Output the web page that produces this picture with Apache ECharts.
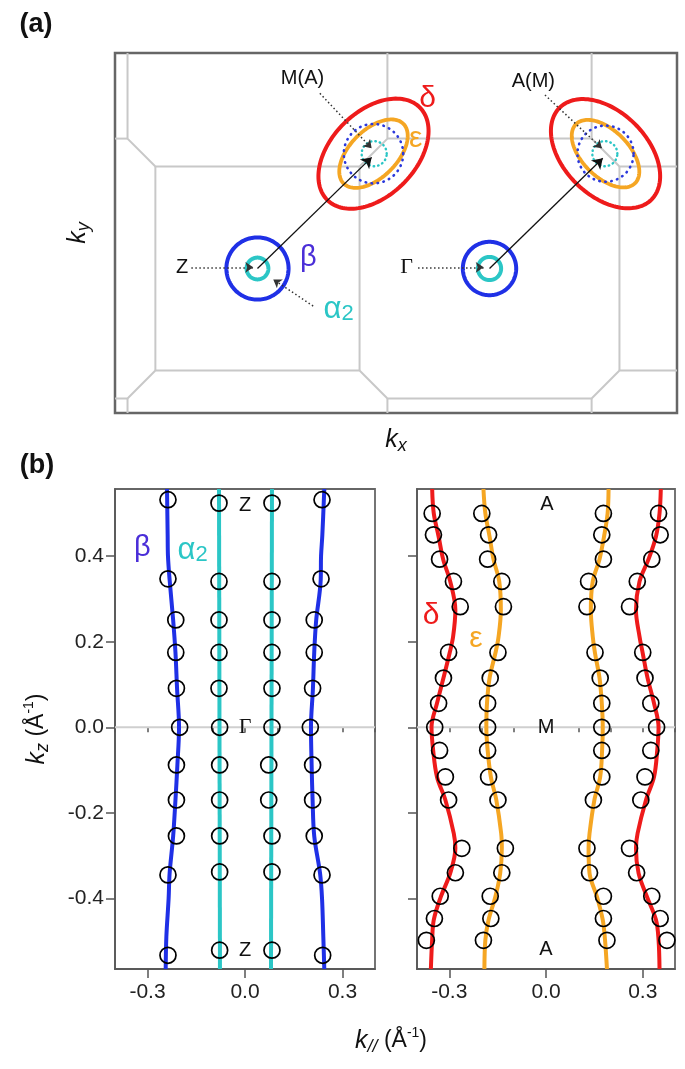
<!DOCTYPE html>
<html><head><meta charset="utf-8">
<script src="https://cdn.jsdelivr.net/npm/echarts@6/dist/echarts.min.js"></script>
<style>html,body{margin:0;padding:0;background:#fff}#c{width:685px;height:1069px}</style>
</head><body><div id="c"></div>
<script>
// ===== Panel (a): Brillouin zone sketch (units: Z–Γ distance = 1, Γ at origin) =====
const bzPolylines = [
  [[-1.56,0.929],[-1.56,0.56],[-1.44,0.44],[-0.56,0.44],[-0.44,0.56],[-0.44,0.929]],
  [[-1.614,0.56],[-1.56,0.56]],
  [[-0.44,0.56],[0.44,0.56],[0.56,0.44],[0.808,0.44]],
  [[0.44,0.56],[0.44,0.929]],
  [[-1.44,0.44],[-1.44,-0.44]],
  [[-0.56,0.44],[-0.56,-0.44]],
  [[0.56,0.44],[0.56,-0.44]],
  [[-1.614,-0.56],[-1.56,-0.56],[-1.44,-0.44],[-0.56,-0.44],[-0.44,-0.56],[0.44,-0.56],[0.56,-0.44],[0.808,-0.44]],
  [[-1.56,-0.56],[-1.56,-0.623]],
  [[-0.44,-0.56],[-0.44,-0.623]],
  [[0.44,-0.56],[0.44,-0.623]]
];
// pockets: [cx, cy, semi-axis a, semi-axis b, rotation deg]
const pocketBeta     = [[-1,0,0.134,0.134,0],[0,0,0.115,0.115,0]];
const pocketAlpha2   = [[-1,0,0.047,0.047,0],[0,0,0.050,0.050,0]];
const pocketDelta    = [[-0.5,0.495,0.282,0.182,45],[0.5,0.495,0.280,0.180,-45]];
const pocketEps      = [[-0.5,0.495,0.182,0.102,45],[0.5,0.495,0.180,0.100,-45]];
const pocketBetaFold = [[-0.5,0.495,0.128,0.128,0],[0.5,0.495,0.121,0.121,0]];
const pocketAlphaFold= [[-0.497,0.495,0.054,0.054,0],[0.497,0.495,0.054,0.054,0]];
const arrowsMain = [[[-1,0],[-0.508,0.479]],[[0,0],[0.488,0.475]]];
const arrowsPointer = [
  [[-1.285,0.005],[-1.018,0.005]],
  [[-0.308,0.005],[-0.025,0.005]],
  [[-0.760,-0.162],[-0.932,-0.047]],
  [[-0.731,0.755],[-0.508,0.518]],
  [[0.239,0.748],[0.484,0.518]]
];
const labelsA = [
  {x:-0.806, y:0.820, t:'M(A)', k:'plain'},
  {x:0.189, y:0.805, t:'A(M)', k:'plain'},
  {x:-1.325, y:0.004, t:'Z', k:'plain'},
  {x:-0.357, y:0.004, t:'Γ', k:'serif'},
  {x:-0.781, y:0.047, t:'β', k:'beta'},
  {x:-0.650, y:-0.175, t:'{a|α}{s|2}', k:'alpha'},
  {x:-0.267, y:0.731, t:'δ', k:'delta'},
  {x:-0.318, y:0.561, t:'ε', k:'eps'}
];

// ===== Panel (b) left: beta / alpha2 =====
const kzBetaRows  = [0.532, 0.347, 0.251, 0.175, 0.091, 0.0, -0.088, -0.170, -0.254, -0.345, -0.533];
const betaCircL   = [-0.237,-0.237,-0.213,-0.213,-0.211,-0.201,-0.211,-0.211,-0.211,-0.237,-0.237];
const betaCircR   = [0.237, 0.234, 0.213, 0.213, 0.208, 0.201, 0.208, 0.208, 0.213, 0.237, 0.239];
const kzAlphaRows = [0.524, 0.341, 0.251, 0.175, 0.091, 0.0, -0.088, -0.170, -0.254, -0.338, -0.521];
const alphaCircL  = [-0.080,-0.080,-0.080,-0.080,-0.080,-0.078,-0.078,-0.078,-0.078,-0.078,-0.078];
const alphaCircR  = [0.083, 0.083, 0.083, 0.083, 0.083, 0.083, 0.073, 0.073, 0.083, 0.083, 0.083];
const kzBetaLine  = [0.557, 0.45, 0.40, 0.345, 0.25, 0.175, 0.09, 0.0, -0.088, -0.17, -0.254, -0.342, -0.40, -0.49, -0.565];
const betaLineL   = [-0.240,-0.238,-0.237,-0.232,-0.221,-0.214,-0.209,-0.203,-0.208,-0.214,-0.221,-0.232,-0.235,-0.242,-0.244];
const betaLineR   = [0.244, 0.238, 0.234, 0.233, 0.219, 0.213, 0.209, 0.203, 0.205, 0.208, 0.213, 0.231, 0.237, 0.241, 0.244];
const kzAlphaLine = [0.557, -0.565];
const alphaLineL  = [-0.080, -0.077];
const alphaLineR  = [0.083, 0.080];

// ===== Panel (b) right: delta / epsilon =====
const kzDERows = [0.500,0.450,0.393,0.341,0.282,0.175,0.115,0.056,0.0,-0.054,-0.116,-0.170,-0.283,-0.340,-0.395,-0.447,-0.498];
const deltaCircL = [-0.353,-0.349,-0.330,-0.287,-0.266,-0.302,-0.318,-0.333,-0.345,-0.330,-0.312,-0.302,-0.261,-0.281,-0.328,-0.346,-0.371];
const epsCircL   = [-0.199,-0.178,-0.181,-0.137,-0.132,-0.149,-0.173,-0.181,-0.181,-0.181,-0.178,-0.149,-0.126,-0.137,-0.173,-0.171,-0.194];
const epsCircR   = [0.178, 0.173, 0.178, 0.132, 0.127, 0.152, 0.168, 0.173, 0.173, 0.173, 0.173, 0.147, 0.127, 0.135, 0.178, 0.178, 0.189];
const deltaCircR = [0.349, 0.354, 0.328, 0.283, 0.259, 0.300, 0.307, 0.325, 0.343, 0.325, 0.307, 0.294, 0.259, 0.281, 0.328, 0.354, 0.375];
const kzDELine = [0.557,0.5,0.446,0.393,0.341,0.274,0.212,0.173,0.115,0.056,0,-0.053,-0.116,-0.170,-0.248,-0.283,-0.341,-0.396,-0.450,-0.497,-0.565];
const deltaLineL = [-0.353,-0.348,-0.333,-0.319,-0.297,-0.281,-0.288,-0.299,-0.318,-0.338,-0.355,-0.350,-0.338,-0.312,-0.286,-0.281,-0.297,-0.326,-0.348,-0.353,-0.357];
const epsLineL   = [-0.194,-0.188,-0.175,-0.163,-0.145,-0.140,-0.147,-0.157,-0.175,-0.183,-0.185,-0.181,-0.171,-0.154,-0.139,-0.137,-0.142,-0.157,-0.178,-0.188,-0.191];
const epsLineR   = [0.194, 0.191, 0.180, 0.166, 0.145, 0.139, 0.145, 0.152, 0.166, 0.173, 0.176, 0.174, 0.168, 0.150, 0.135, 0.132, 0.135, 0.158, 0.176, 0.183, 0.189];
const deltaLineR = [0.356, 0.352, 0.341, 0.318, 0.290, 0.279, 0.290, 0.300, 0.315, 0.335, 0.349, 0.345, 0.335, 0.310, 0.284, 0.279, 0.287, 0.313, 0.341, 0.349, 0.352];

const labelsBL = [
  {x:-0.316, y:0.419, t:'β', k:'beta'},
  {x:-0.161, y:0.414, t:'{a|α}{s|2}', k:'alpha'},
  {x:0.0, y:0.518, t:'Z', k:'plain'},
  {x:0.0, y:0.0, t:'Γ', k:'serif'},
  {x:0.0, y:-0.522, t:'Z', k:'plain'}
];
const labelsBR = [
  {x:-0.356, y:0.261, t:'δ', k:'delta'},
  {x:-0.217, y:0.208, t:'ε', k:'eps'},
  {x:0.003, y:0.520, t:'A', k:'plain'},
  {x:0.0, y:0.0, t:'M', k:'plain'},
  {x:0.0, y:-0.520, t:'A', k:'plain'}
];
const kRange = [-0.4, 0.4];
const xMajorTicks = [-0.3, 0, 0.3];
const xMinorTicks = [-0.4,-0.3,-0.2,-0.1,0,0.1,0.2,0.3,0.4];
const yTicks = [-0.4,-0.2,0,0.2,0.4];

// ===== styling =====
const FONT = "'Liberation Sans', Arial, sans-serif";
const SERIF = "'Liberation Serif', 'Times New Roman', serif";
const COL = {red:'#ee1b1b', orange:'#f5a623', blue:'#1f30e6', cyan:'#2bc6c6', betaTxt:'#4a2ed8',
             dotBlue:'#2a38dc', gray:'#c8c8c8', frame:'#666666', txt:'#111111'};
const NOB = {textBorderWidth:0, textBorderColor:'transparent', textShadowBlur:0, opacity:1};

function labelStyle(kind){
  switch(kind){
    case 'plain': return Object.assign({fontSize:20, color:COL.txt, fontFamily:FONT}, NOB);
    case 'serif': return Object.assign({fontSize:22, color:COL.txt, fontFamily:SERIF}, NOB);
    case 'beta':  return Object.assign({fontSize:29, color:COL.betaTxt, fontFamily:FONT}, NOB);
    case 'delta': return Object.assign({fontSize:30, color:COL.red, fontFamily:FONT}, NOB);
    case 'eps':   return Object.assign({fontSize:30, color:COL.orange, fontFamily:FONT}, NOB);
    case 'alpha': return Object.assign({color:COL.cyan, rich:{
                               a:Object.assign({fontSize:31, color:COL.cyan, fontFamily:FONT, lineHeight:32}, NOB),
                               s:Object.assign({fontSize:22, color:COL.cyan, fontFamily:FONT, lineHeight:19, verticalAlign:'bottom'}, NOB)}}, NOB);
  }
}
function labelSeries(list, xi, yi){
  return {type:'scatter', xAxisIndex:xi, yAxisIndex:yi, symbol:'circle', symbolSize:1, silent:true, z:6,
    itemStyle:{color:'rgba(0,0,0,0)', opacity:1},
    emphasis:{disabled:true},
    data:list.map(d=>({value:[d.x,d.y], label:Object.assign({show:true, position:'inside', formatter:d.t}, labelStyle(d.k))}))};
}
function ellipseSeries(data, color, width, dash, z){
  return {type:'custom', xAxisIndex:0, yAxisIndex:0, silent:true, z:z||3, encode:{x:0,y:1}, data:data,
    renderItem:function(params, api){
      const c = api.coord([api.value(0), api.value(1)]);
      const sz = api.size([1,1]);
      const a = api.value(2), b = api.value(3), ang = api.value(4)*Math.PI/180;
      const pts = [];
      const N = 140;
      for(let i=0;i<N;i++){
        const t = i/N*2*Math.PI;
        const dx = a*Math.cos(t), dy = b*Math.sin(t);
        const rx = dx*Math.cos(ang) - dy*Math.sin(ang);
        const ry = dx*Math.sin(ang) + dy*Math.cos(ang);
        pts.push([c[0]+rx*sz[0], c[1]-ry*sz[1]]);
      }
      return {type:'polygon', shape:{points:pts}, style:{fill:'none', stroke:color, lineWidth:width, lineDash:dash||null, lineCap:'round'}};
    }};
}
function lineSeries(kz, k, color, xi, yi){
  return {type:'line', xAxisIndex:xi, yAxisIndex:yi, data:kz.map((z,i)=>[k[i], z]), showSymbol:false, smooth:0.35,
    silent:true, z:3, lineStyle:{color:color, width:4, opacity:1}};
}
function circleSeries(kz, k, xi, yi){
  return {type:'scatter', xAxisIndex:xi, yAxisIndex:yi, data:kz.map((z,i)=>[k[i], z]), symbol:'circle', symbolSize:16,
    silent:true, z:5, emphasis:{disabled:true},
    itemStyle:{color:'rgba(0,0,0,0)', borderColor:'#000', borderWidth:1.7, opacity:1}};
}
function zeroSeries(xi, yi){
  return {type:'line', xAxisIndex:xi, yAxisIndex:yi, data:kRange.map(k=>[k,0]), showSymbol:false, silent:true, z:1,
    lineStyle:{color:'#cfcfcf', width:2}};
}
const titleRich = (c)=>({
  k:{fontSize:25, fontStyle:'italic', fontFamily:FONT, [c]:COL.txt, lineHeight:30},
  s:{fontSize:18, fontStyle:'italic', fontFamily:FONT, [c]:COL.txt, lineHeight:16, verticalAlign:'bottom'},
  n:{fontSize:23, fontFamily:FONT, [c]:COL.txt, lineHeight:30},
  p:{fontSize:14, fontFamily:FONT, [c]:COL.txt, lineHeight:16, verticalAlign:'top'}
});
const axisLineStyle = {color:'#555', width:1.5};
const hiddenAxis = {axisLine:{show:false}, axisTick:{show:false}, axisLabel:{show:false}, splitLine:{show:false}};
function majorX(gi){
  return {gridIndex:gi, type:'value', min:kRange[0], max:kRange[1], position:'bottom',
    axisLine:{show:true, onZero:false, lineStyle:axisLineStyle},
    axisTick:{show:true, inside:false, length:9, customValues:xMajorTicks, lineStyle:axisLineStyle},
    axisLabel:{show:true, customValues:xMajorTicks, formatter:v=>v.toFixed(1), margin:13, fontSize:21, color:'#222', fontFamily:FONT},
    splitLine:{show:false}};
}
function minorX(gi){
  return {gridIndex:gi, type:'value', min:kRange[0], max:kRange[1], position:'bottom',
    axisLine:{show:false}, axisLabel:{show:false}, splitLine:{show:false},
    axisTick:{show:true, inside:false, length:5, customValues:xMinorTicks, lineStyle:axisLineStyle}};
}
function yAxisB(gi, labels){
  return {gridIndex:gi, type:'value', min:-0.565, max:0.557,
    axisLine:{show:true, onZero:false, lineStyle:axisLineStyle},
    axisTick:{show:true, inside:false, length:9, customValues:yTicks, lineStyle:axisLineStyle},
    axisLabel:{show:labels, customValues:yTicks, formatter:v=>v.toFixed(1), margin:11, fontSize:21, color:'#222', fontFamily:FONT},
    splitLine:{show:false}};
}

const chart = echarts.init(document.getElementById('c'), null, {renderer:'canvas', width:685, height:1069});
const option = {
  animation:false,
  backgroundColor:'#ffffff',
  grid:[
    {left:115, top:53, width:562, height:360, show:true, borderColor:COL.frame, borderWidth:2.5, backgroundColor:'transparent'},
    {left:115, top:489, width:260, height:480, show:true, borderColor:'#666', borderWidth:1.8, backgroundColor:'transparent'},
    {left:417, top:489, width:258, height:480, show:true, borderColor:'#666', borderWidth:1.8, backgroundColor:'transparent'}
  ],
  xAxis:[
    Object.assign({gridIndex:0, type:'value', min:-1.614, max:0.808, name:'{k|k}{s|x}', nameLocation:'middle', nameGap:12,
      nameTextStyle:{rich:titleRich('color')}}, hiddenAxis),
    majorX(1), minorX(1), majorX(2), minorX(2)
  ],
  yAxis:[
    Object.assign({gridIndex:0, type:'value', min:-0.623, max:0.929, name:'{k|k}{s|y}', nameLocation:'middle', nameGap:22, nameRotate:90,
      nameTextStyle:{rich:titleRich('color')}}, hiddenAxis),
    Object.assign(yAxisB(1, true), {name:'{k|k}{s|z}{n| (Å}{p|-1}{n|)}', nameLocation:'middle', nameGap:63, nameRotate:90,
      nameTextStyle:{rich:titleRich('color')}}),
    yAxisB(2, false)
  ],
  graphic:[
    {type:'text', x:36, y:25, style:{text:'(a)', fill:'#111', font:"bold 27px 'Liberation Sans', Arial, sans-serif", align:'center', verticalAlign:'middle'}},
    {type:'text', x:37, y:466, style:{text:'(b)', fill:'#111', font:"bold 27px 'Liberation Sans', Arial, sans-serif", align:'center', verticalAlign:'middle'}},
    {type:'text', x:391, y:1041, style:{text:'{k|k}{s|//}{n| (Å}{p|-1}{n|)}', rich:titleRich('fill'), align:'center', verticalAlign:'middle'}}
  ],
  series:[
    // panel (a)
    {type:'lines', coordinateSystem:'cartesian2d', xAxisIndex:0, yAxisIndex:0, polyline:true, silent:true, z:1,
      lineStyle:{color:COL.gray, width:2, opacity:1}, data:bzPolylines.map(p=>({coords:p}))},
    ellipseSeries(pocketBeta, COL.blue, 4),
    ellipseSeries(pocketAlpha2, COL.cyan, 4),
    ellipseSeries(pocketDelta, COL.red, 4),
    ellipseSeries(pocketEps, COL.orange, 3.8),
    ellipseSeries(pocketBetaFold, COL.dotBlue, 2.6, [0.5,5.5]),
    ellipseSeries(pocketAlphaFold, COL.cyan, 2.4, [0.5,4]),
    {type:'lines', coordinateSystem:'cartesian2d', xAxisIndex:0, yAxisIndex:0, silent:true, z:4,
      symbol:['none','arrow'], symbolSize:10, lineStyle:{color:'#111', width:1.3, opacity:1, curveness:0},
      data:arrowsMain.map(p=>({coords:p}))},
    {type:'lines', coordinateSystem:'cartesian2d', xAxisIndex:0, yAxisIndex:0, silent:true, z:4,
      symbol:['none','arrow'], symbolSize:8, lineStyle:{color:'#333', width:1.5, type:[1.5,2.5], opacity:1, curveness:0},
      data:arrowsPointer.map(p=>({coords:p}))},
    labelSeries(labelsA, 0, 0),
    // panel (b) left
    zeroSeries(1,1),
    lineSeries(kzBetaLine, betaLineL, COL.blue, 1, 1),
    lineSeries(kzBetaLine, betaLineR, COL.blue, 1, 1),
    lineSeries(kzAlphaLine, alphaLineL, COL.cyan, 1, 1),
    lineSeries(kzAlphaLine, alphaLineR, COL.cyan, 1, 1),
    circleSeries(kzBetaRows, betaCircL, 1, 1),
    circleSeries(kzBetaRows, betaCircR, 1, 1),
    circleSeries(kzAlphaRows, alphaCircL, 1, 1),
    circleSeries(kzAlphaRows, alphaCircR, 1, 1),
    labelSeries(labelsBL, 1, 1),
    // panel (b) right
    zeroSeries(3,2),
    lineSeries(kzDELine, deltaLineL, COL.red, 3, 2),
    lineSeries(kzDELine, deltaLineR, COL.red, 3, 2),
    lineSeries(kzDELine, epsLineL, COL.orange, 3, 2),
    lineSeries(kzDELine, epsLineR, COL.orange, 3, 2),
    circleSeries(kzDERows, deltaCircL, 3, 2),
    circleSeries(kzDERows, epsCircL, 3, 2),
    circleSeries(kzDERows, epsCircR, 3, 2),
    circleSeries(kzDERows, deltaCircR, 3, 2),
    labelSeries(labelsBR, 3, 2)
  ]
};
chart.setOption(option);
</script>
</body></html>
